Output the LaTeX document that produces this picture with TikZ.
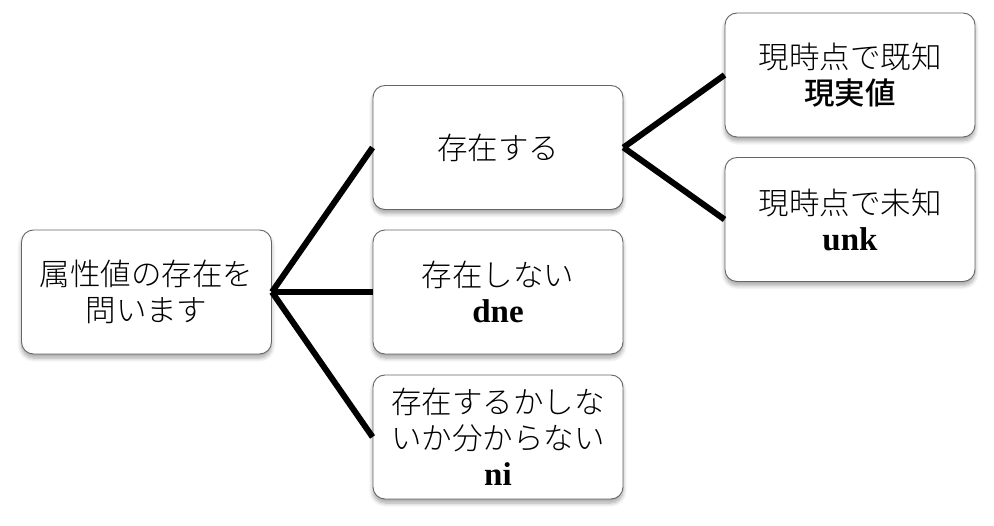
\documentclass[tikz,border=0pt]{standalone}
\usepackage{fontspec}
\setmainfont{Liberation Serif}
\newfontfamily\cjk{Noto Sans CJK JP Light}[BoldFont={Noto Sans CJK JP Medium}]
\usetikzlibrary{shadows.blur}
\tikzset{
  box/.style={draw=black!60, line width=0.9pt, fill=white, rounded corners=12pt,
    minimum width=250pt, minimum height=124pt, align=center, inner sep=2pt,
    font=\cjk\fontsize{30.5}{36}\selectfont,
    blur shadow={shadow xshift=0pt, shadow yshift=-4pt, shadow blur steps=6, shadow opacity=35, shadow blur radius=4pt}},
  conn/.style={line width=6pt, black}
}
\newcommand{\lat}[1]{{\rmfamily\bfseries\fontsize{33}{36}\selectfont #1}}
\begin{document}
\begin{tikzpicture}[x=1pt,y=-1pt]
\useasboundingbox (0,0) rectangle (994,526);
\node[box] (root) at (146.5,292) {属性値の存在を\\問います};
\node[box] (exists) at (498,147.5) {存在する};
\node[box] (dne) at (498,292) {存在しない\\\lat{dne}};
\node[box] (ni) at (498,437) {存在するかしな\\いか分からない\\\lat{ni}};
\node[box] (known) at (850,75) {現時点で既知\\{\bfseries 現実値}};
\node[box] (unk) at (850,219.5) {現時点で未知\\\lat{unk}};
\draw[conn] (root.east) -- (exists.west);
\draw[conn] (root.east) -- (dne.west);
\draw[conn] (root.east) -- (ni.west);
\draw[conn] (exists.east) -- (known.west);
\draw[conn] (exists.east) -- (unk.west);
\end{tikzpicture}
\end{document}
